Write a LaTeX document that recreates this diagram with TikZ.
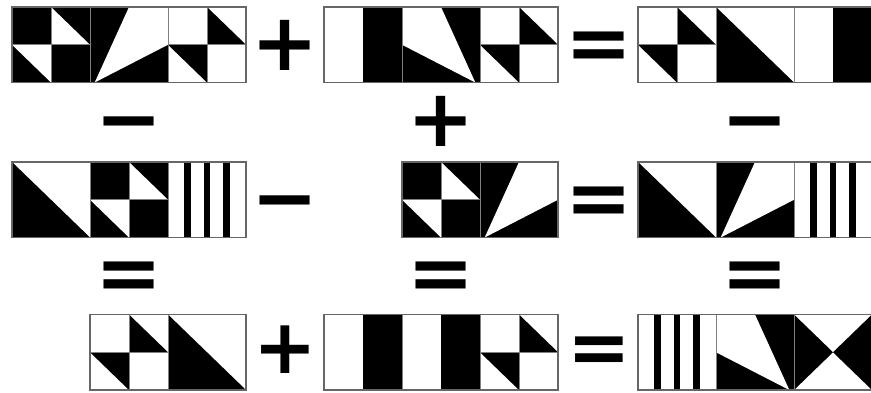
\documentclass[tikz,border=0pt]{standalone}
\usepackage{fontspec}
\setmainfont{DejaVu Sans}
\tikzset{
  cellunit/.style={x=78pt,y=-75.5pt},
  gridline/.style={draw=black!50, line width=0.8pt},
  tileborder/.style={draw=black!60, line width=1.5pt},
  op/.style={font=\fontsize{80pt}{80pt}\selectfont\bfseries, inner sep=0pt, anchor=base, text=black},
  oplow/.style={font=\fontsize{76pt}{76pt}\selectfont\bfseries, inner sep=0pt, anchor=base, text=black},
}
\newcommand\patZero[2]{\begin{scope}[shift={(#1,#2)},cellunit]
  \fill[black] (0,0) rectangle (1,1);
  \fill[white] (0.5,0) -- (1,0) -- (1,0.5) -- (0.06,1) -- cycle;
  \draw[gridline] (0,0) rectangle (1,1);
\end{scope}}
\newcommand\patOne[2]{\begin{scope}[shift={(#1,#2)},cellunit]
  \fill[black] (0,0) rectangle (1,1);
  \fill[white] (0,0) -- (0.5,0) -- (0.94,1) -- (0,0.5) -- cycle;
  \draw[gridline] (0,0) rectangle (1,1);
\end{scope}}
\newcommand\patTwo[2]{\begin{scope}[shift={(#1,#2)},cellunit]
  \fill[white] (0,0) rectangle (1,1);
  \fill[black] (0,0) -- (0,1) -- (1,1) -- cycle;
  \draw[gridline] (0,0) rectangle (1,1);
\end{scope}}
\newcommand\patThree[2]{\begin{scope}[shift={(#1,#2)},cellunit]
  \fill[black] (0,0) rectangle (1,1);
  \fill[white] (0.5,0) -- (0.5,0.5) -- (1,0.5) -- cycle;
  \fill[white] (0,0.5) -- (0.5,0.5) -- (0.5,1) -- cycle;
  \draw[gridline] (0,0) rectangle (1,1) (0.5,0) -- (0.5,1) (0,0.5) -- (1,0.5);
\end{scope}}
\newcommand\patFour[2]{\begin{scope}[shift={(#1,#2)},cellunit]
  \fill[white] (0,0) rectangle (1,1);
  \fill[black] (0.5,0) rectangle (1,1);
  \draw[gridline] (0,0) rectangle (1,1);
\end{scope}}
\newcommand\patFive[2]{\begin{scope}[shift={(#1,#2)},cellunit]
  \fill[white] (0,0) rectangle (1,1);
  \fill[black] (5/24,0) rectangle (7/24,1);
  \fill[black] (11/24,0) rectangle (13/24,1);
  \fill[black] (17/24,0) rectangle (19/24,1);
  \draw[gridline] (0,0) rectangle (1,1);
\end{scope}}
\newcommand\patSeven[2]{\begin{scope}[shift={(#1,#2)},cellunit]
  \fill[white] (0,0) rectangle (1,1);
  \fill[black] (0.5,0) -- (0.5,0.5) -- (1,0.5) -- cycle;
  \fill[black] (0,0.5) -- (0.5,0.5) -- (0.5,1) -- cycle;
  \draw[gridline] (0,0) rectangle (1,1) (0.5,0) -- (0.5,1) (0,0.5) -- (1,0.5);
\end{scope}}
\newcommand\patNine[2]{\begin{scope}[shift={(#1,#2)},cellunit]
  \fill[white] (0,0) rectangle (1,1);
  \fill[black] (0,0) -- (0.5,0.5) -- (0,1) -- cycle;
  \fill[black] (1,0) -- (0.5,0.5) -- (1,1) -- cycle;
  \draw[gridline] (0,0) rectangle (1,1);
\end{scope}}
\newcommand\tileFrame[3]{\draw[tileborder] (#1,#2) rectangle ++({78*#3},75.5);}
\def\opoff{26.4}
\def\opofflow{25.1}
\begin{document}
\begin{tikzpicture}[x=1pt,y=-1pt]
\useasboundingbox (0,0) rectangle (871,392);
\clip (0,0) rectangle (871,392);
\fill[white] (0,0) rectangle (871,392);
% Row 1
\patThree{12}{7}\patZero{90}{7}\patSeven{168}{7}\tileFrame{12}{7}{3}
\patFour{324}{7}\patOne{402}{7}\patSeven{480}{7}\tileFrame{324}{7}{3}
\patSeven{638}{7}\patTwo{716}{7}\patFour{794}{7}\tileFrame{638}{7}{3}
% Row 2
\patTwo{12}{162}\patThree{90}{162}\patFive{168}{162}\tileFrame{12}{162}{3}
\patThree{402}{162}\patZero{480}{162}\tileFrame{402}{162}{2}
\patTwo{638}{162}\patZero{716}{162}\patFive{794}{162}\tileFrame{638}{162}{3}
% Row 3
\patSeven{90}{314.5}\patTwo{168}{314.5}\tileFrame{90}{314.5}{2}
\patFour{324}{314.5}\patFour{402}{314.5}\patSeven{480}{314.5}\tileFrame{324}{314.5}{3}
\patFive{638}{314.5}\patOne{716}{314.5}\patNine{794}{314.5}\tileFrame{638}{314.5}{3}
% operators in rows
\node[op] (r1plus) at (285,{44.5+\opoff}) {+};
\node[op] (r1eq) at (599.5,{44.5+\opoff}) {=};
\node[op] (r2minus) at (285,{199.5+\opoff}) {−};
\node[op] (r2eq) at (599.5,{199.5+\opoff}) {=};
\node[oplow] (r3plus) at (285,{348.5+\opofflow}) {+};
\node[oplow] (r3eq) at (599.5,{348.5+\opofflow}) {=};
% operators between rows
\node[op] (c1minus) at (129,{120+\opoff}) {−};
\node[op] (c2plus) at (441,{120+\opoff}) {+};
\node[op] (c3minus) at (755,{120+\opoff}) {−};
\node[op] (c1eq) at (129,{274.5+\opoff}) {=};
\node[op] (c2eq) at (441,{274.5+\opoff}) {=};
\node[op] (c3eq) at (755,{274.5+\opoff}) {=};
\end{tikzpicture}
\end{document}
